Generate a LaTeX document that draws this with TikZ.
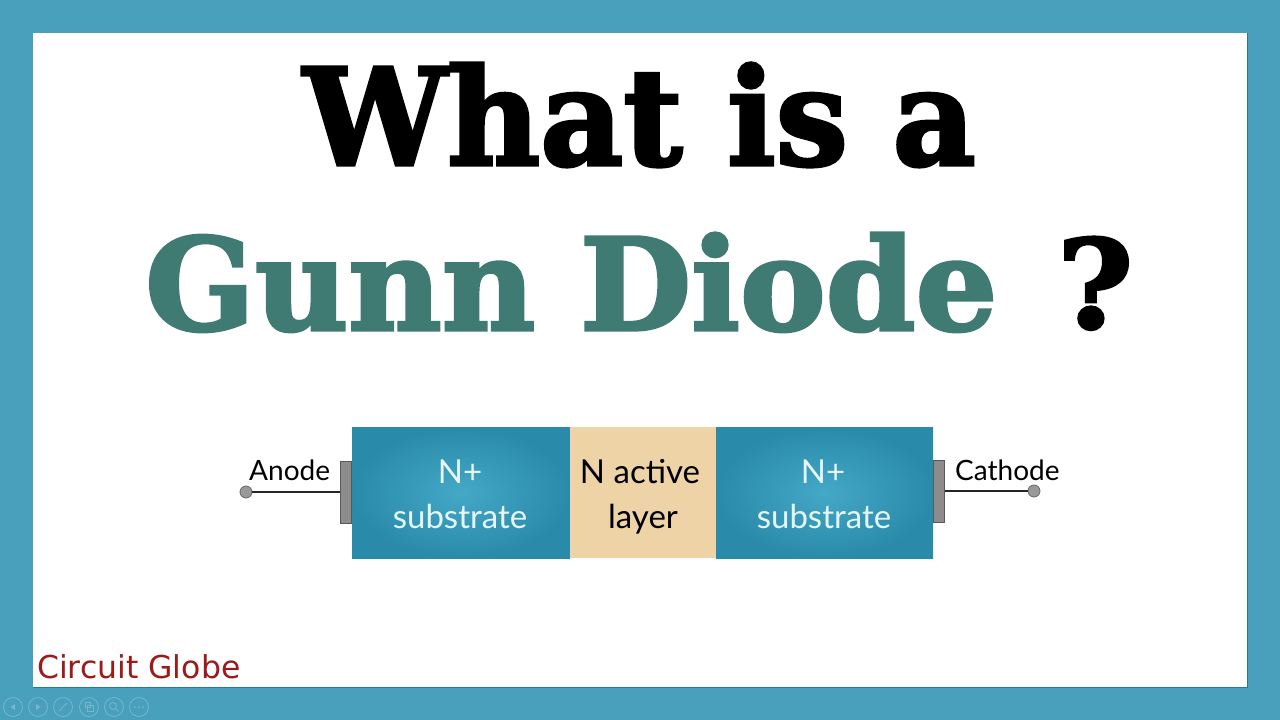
\documentclass[tikz,border=0pt]{standalone}
\usepackage{fontspec}
\usepackage{graphicx}
\setmainfont{DejaVu Serif}
\newfontfamily\titlefont{DejaVu Serif}[BoldFeatures={FakeBold=2.5}]
\newfontfamily\labelfont{Lato}
\newfontfamily\brandfont{DejaVu Sans}
\definecolor{framecol}{RGB}{72,160,188}
\definecolor{framedark}{RGB}{42,120,146}
\definecolor{gunncol}{RGB}{63,123,115}
\definecolor{nplusin}{RGB}{68,168,199}
\definecolor{nplusout}{RGB}{42,138,170}
\definecolor{activecol}{RGB}{237,211,166}
\definecolor{contactcol}{RGB}{140,140,140}
\definecolor{brandcol}{RGB}{155,27,27}
\definecolor{nplustext}{RGB}{230,246,248}
\definecolor{iconcol}{RGB}{120,182,204}
\tikzset{
  nplusbox/.style={rectangle, inner sep=0, minimum height=131pt, inner color=nplusin, outer color=nplusout},
  activebox/.style={rectangle, inner sep=0, minimum height=131pt, fill=activecol},
  contactbox/.style={rectangle, inner sep=0, minimum width=11pt, minimum height=62pt, fill=contactcol, draw=black!65, line width=0.8pt},
  termdot/.style={circle, inner sep=0, minimum size=12pt, fill=black!40, draw=black!60, line width=0.8pt},
  wire/.style={line width=1.6pt, black!85},
  difftext/.style={inner sep=0, anchor=base, font=\labelfont\fontsize{33}{38}\selectfont},
  termtext/.style={inner sep=0, anchor=base west, font=\labelfont\fontsize{28}{34}\selectfont, text=black},
  navicon/.style={circle, inner sep=0, minimum size=19pt, draw=iconcol, line width=0.8pt},
  navglyph/.style={iconcol, line width=0.8pt}
}
\begin{document}
\begin{tikzpicture}[x=1pt,y=-1pt]
\useasboundingbox (0,0) rectangle (1280,720);
\fill[framecol] (0,0) rectangle (1280,720);
\fill[white] (33,33) rectangle (1247,687);
\draw[framedark, line width=1.5pt] (33,687.5) -- (1247.5,687.5) -- (1247.5,33);

% title
\node[anchor=base west, inner sep=0] (t1) at (303,165)
  {\resizebox{672pt}{102pt}{\titlefont\bfseries What is a}};
\node[anchor=base west, inner sep=0, text=gunncol] (t2) at (145,330)
  {\resizebox{852pt}{97pt}{\titlefont\bfseries Gunn Diode}};
\node[anchor=base west, inner sep=0] (t3) at (1057,328)
  {\resizebox{76pt}{91pt}{\titlefont\bfseries ?}};

% diode layers
\node[nplusbox, anchor=north west, minimum width=218pt] (nl) at (352,427) {};
\node[activebox, anchor=north west, minimum width=146pt] (na) at (570,427) {};
\node[nplusbox, anchor=north west, minimum width=217pt] (nr) at (716,427) {};

\node[difftext, text=nplustext] (nl1) at (460,483) {N+};
\node[difftext, text=nplustext] (nl2) at (460,528) {substrate};
\node[difftext, text=black] (na1) at (640,483) {N active};
\node[difftext, text=black] (na2) at (643,528) {layer};
\node[difftext, text=nplustext] (nr1) at (823,483) {N+};
\node[difftext, text=nplustext] (nr2) at (824,528) {substrate};

% contacts and terminals
\node[contactbox, anchor=east] (cl) at (352,492) {};
\node[contactbox, anchor=west] (cr) at (933,491) {};
\node[termdot] (ta) at (246,492) {};
\node[termdot] (tc) at (1034,491) {};
\draw[wire] (cl.west) -- (ta.east);
\draw[wire] (cr.east) -- (tc.west);
\node[termtext] (la) at (249,480) {Anode};
\node[termtext] (lc) at (955,480) {Cathode};

% brand
\node[anchor=base west, inner sep=0, text=brandcol, font=\brandfont\fontsize{31.5}{36}\selectfont] (brand) at (37,678) {Circuit Globe};

% presentation controls
\node[navicon] (i1) at (13,707) {};
\node[navicon] (i2) at (38,707) {};
\node[navicon] (i3) at (63,707) {};
\node[navicon] (i4) at (89,707) {};
\node[navicon] (i5) at (114,707) {};
\node[navicon] (i6) at (139,707) {};
\fill[iconcol] (10.5,707) -- (15,704) -- (15,710) -- cycle;
\fill[iconcol] (40.5,707) -- (36,704) -- (36,710) -- cycle;
\draw[navglyph] (59,711) -- (67,703);
\draw[navglyph] (85,702.5) rectangle (90,707.5);
\draw[navglyph] (87.5,705.5) rectangle (93,711);
\draw[navglyph] (113,706) circle (3.5pt);
\draw[navglyph] (115.5,708.5) -- (118.5,711.5);
\fill[iconcol] (135,707) circle (1pt) (139,707) circle (1pt) (143,707) circle (1pt);
\end{tikzpicture}
\end{document}
